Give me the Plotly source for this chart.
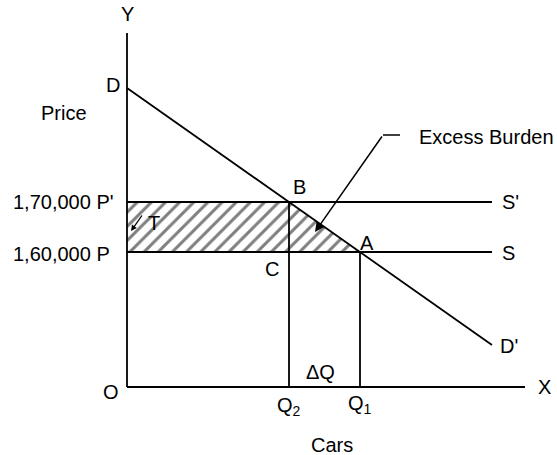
import plotly.graph_objects as go

# ---- data (schematic units; origin O = (0, 0)) ----
price_levels = [13.5, 18.5]                 # P, P'
price_labels = ["1,60,000 P", "1,70,000 P'"]
qty_levels = [16.2, 23.3]                   # Q2, Q1
qty_labels = ["Q<sub>2</sub>", "Q<sub>1</sub>"]
demand_x = [0, 36.5]                        # D ... D'
demand_y = [29.9, 4.2]
supply_end = 36.5                           # S and S' lines end
axis_x_max = 39.8
axis_y_max = 35.4
point_B = (16.2, 18.5)
point_A = (23.3, 13.5)
point_C = (16.2, 13.5)

BLACK = "black"
FONT = "Liberation Sans, Arial, sans-serif"
FS = 20
LW = 1.8

fig = go.Figure()

# hatched area P'-B-A-P (tax revenue + excess burden)
fig.add_trace(go.Scatter(
    x=[0, point_B[0], point_A[0], 0, 0],
    y=[price_levels[1], point_B[1], point_A[1], price_levels[0], price_levels[1]],
    mode="lines", fill="toself", line=dict(width=0, color="rgba(0,0,0,0)"),
    fillcolor="rgba(0,0,0,0)",
    fillpattern=dict(shape="/", fgcolor=BLACK, bgcolor="white", size=10, solidity=0.3),
    hoverinfo="skip", showlegend=False))

def seg(xs, ys, w=LW):
    fig.add_trace(go.Scatter(x=xs, y=ys, mode="lines",
                             line=dict(color=BLACK, width=w),
                             hoverinfo="skip", showlegend=False))

# axes
seg([0, 0], [axis_y_max, 0])
seg([0, axis_x_max], [0, 0])
# demand D-D'
seg(demand_x, demand_y)
# supply lines S and S'
seg([0, supply_end], [price_levels[0], price_levels[0]])
seg([0, supply_end], [price_levels[1], price_levels[1]])
# verticals B-Q2, A-Q1
seg([qty_levels[0], qty_levels[0]], [point_B[1], 0])
seg([qty_levels[1], qty_levels[1]], [point_A[1], 0])
# leader for Excess Burden (horizontal part)
seg([27.3, 25.6], [25.2, 25.2], w=1.5)

ann = []
def txt(x, y, t, xanchor="center", yanchor="middle", size=FS):
    ann.append(dict(x=x, y=y, text=t, showarrow=False, xanchor=xanchor,
                    yanchor=yanchor, font=dict(family=FONT, size=size, color=BLACK)))

txt(0, 37.3, "Y")
txt(41.7, 0, "X")
txt(-1.6, -0.5, "O")
txt(-1.4, 30.2, "D")
txt(-6.3, 27.4, "Price")
txt(-11.6, price_levels[1], price_labels[1], xanchor="left")
txt(-11.6, price_levels[0] - 0.2, price_labels[0], xanchor="left")
txt(17.2, 20.0, "B")
txt(24.0, 14.4, "A")
txt(14.5, 11.8, "C")
txt(2.7, 16.4, "T")
txt(37.3, price_levels[1], "S'", xanchor="left")
txt(37.3, price_levels[0] - 0.1, "S", xanchor="left")
txt(37.1, demand_y[1] - 0.1, "D'", xanchor="left")
txt(19.3, 1.5, "ΔQ")
txt(qty_levels[0], -1.9, qty_labels[0])
txt(qty_levels[1], -1.7, qty_labels[1])
txt(20.5, -5.8, "Cars")
txt(29.0, 25.0, "Excess Burden", xanchor="left")

# arrow to excess burden triangle
ann.append(dict(x=18.8, y=15.5, ax=25.6, ay=25.2, axref="x", ayref="y",
                xref="x", yref="y", text="", showarrow=True,
                arrowhead=2, arrowsize=1.3, arrowwidth=1.5, arrowcolor=BLACK))
# small T arrow
ann.append(dict(x=0.4, y=15.6, ax=1.6, ay=17.3, axref="x", ayref="y",
                xref="x", yref="y", text="", showarrow=True,
                arrowhead=2, arrowsize=0.9, arrowwidth=1.3, arrowcolor=BLACK))

fig.update_layout(
    width=557, height=455,
    margin=dict(l=0, r=0, t=0, b=0),
    paper_bgcolor="white", plot_bgcolor="white",
    xaxis=dict(range=[-12.7, 43.0], visible=False, fixedrange=True),
    yaxis=dict(range=[-6.8, 38.7], visible=False, fixedrange=True),
    annotations=ann,
    showlegend=False,
)

fig.write_html("out.html", config={"displayModeBar": False},
               post_script="document.body.style.margin='0';")
